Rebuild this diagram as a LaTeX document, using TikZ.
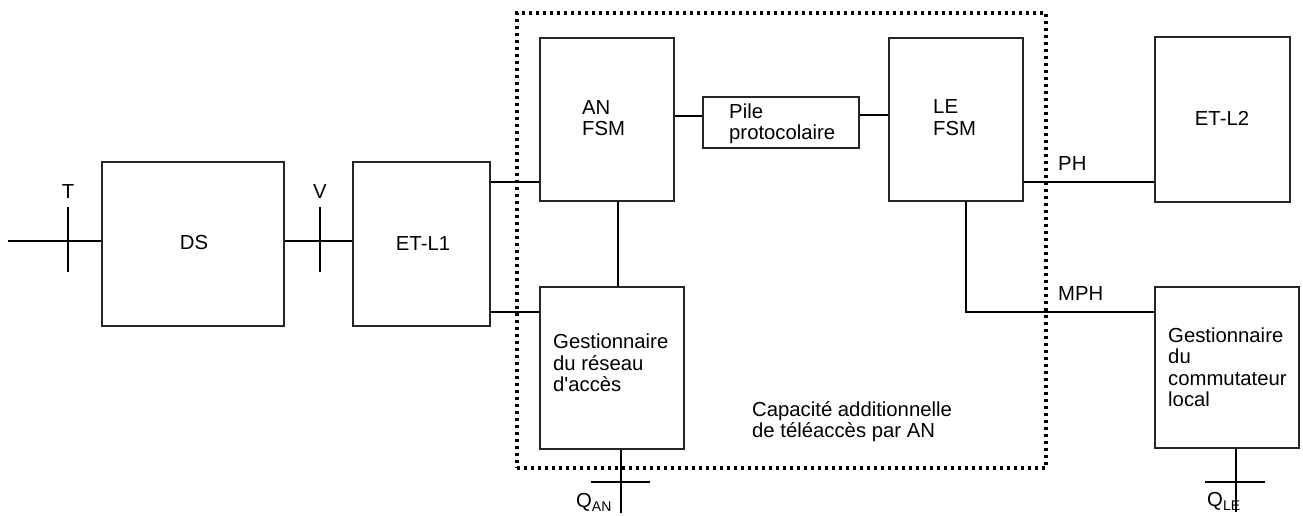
\documentclass[tikz,border=0pt]{standalone}
\usepackage{fontspec}
\setmainfont{Liberation Sans}
\begin{document}
\begin{tikzpicture}[x=1pt,y=-1pt,
  box/.style={draw=black!85, line width=1.1pt, inner sep=0pt},
  thinln/.style={line width=1.1pt},
  thickln/.style={line width=2pt},
  lbl/.style={inner sep=0pt, align=left, font=\fontsize{20.3}{21.5}\selectfont},
  dotbox/.style={draw, line width=3.4pt, dash pattern=on 3.4pt off 3.6pt, inner sep=0pt}]
\useasboundingbox (0,0) rectangle (1303,515);
% boxes
\node[box, minimum width=182pt, minimum height=164pt] (ds) at (193,244) {};
\node[box, minimum width=137pt, minimum height=164pt] (etl1) at (421.5,244) {};
\node[box, minimum width=134pt, minimum height=163pt] (an) at (607,119.5) {};
\node[box, minimum width=156pt, minimum height=51pt] (pile) at (781,122.5) {};
\node[box, minimum width=134pt, minimum height=163pt] (le) at (956,119.5) {};
\node[box, minimum width=135pt, minimum height=165pt] (etl2) at (1222.5,119.5) {};
\node[box, minimum width=144pt, minimum height=162pt] (gest) at (612,368) {};
\node[box, minimum width=144pt, minimum height=161pt] (comm) at (1227,367.5) {};
% dotted zone
\node[dotbox, minimum width=529pt, minimum height=455pt] (zone) at (781.5,240.5) {};
% helper coordinates
\coordinate (tin) at (8,241);
\coordinate (y182) at (0,182);
\coordinate (y312) at (0,312);
\coordinate (y116) at (0,116);
\coordinate (y115) at (0,115);
\coordinate (x618) at (618,0);
\coordinate (x966) at (966,0);
\coordinate (x621) at (621,0);
\coordinate (x1236) at (1236,0);
\coordinate (tT) at (68,207);
\coordinate (tB) at (68,272);
\coordinate (vT) at (320,207);
\coordinate (vB) at (320,272);
\coordinate (qanend) at (621,513);
\coordinate (qa1) at (591,482);
\coordinate (qa2) at (650,482);
\coordinate (qleend) at (1236,512);
\coordinate (ql1) at (1205,482);
\coordinate (ql2) at (1265,482);
% connectors
\draw[thinln] (tin) -- (tin -| ds.west);
\draw[thickln] (tT) -- (tB);
\draw[thickln] (ds.east |- tin) -- (etl1.west |- tin);
\draw[thickln] (vT) -- (vB);
\draw[thickln] (etl1.east |- y182) -- (an.west |- y182);
\draw[thickln] (etl1.east |- y312) -- (gest.west |- y312);
\draw[thickln] (an.south -| x618) -- (gest.north -| x618);
\draw[thinln] (an.east |- y116) -- (pile.west |- y116);
\draw[thinln] (pile.east |- y115) -- (le.west |- y115);
\draw[thickln] (le.east |- y182) -- (etl2.west |- y182);
\draw[thinln] (le.south -| x966) |- (comm.west |- y312);
\draw[thickln] (gest.south -| x621) -- (qanend);
\draw[thickln] (qa1) -- (qa2);
\draw[thickln] (comm.south -| x1236) -- (qleend);
\draw[thickln] (ql1) -- (ql2);
% labels (multi-line: anchor at baseline of last line)
\node[lbl, anchor=base] (lT) at (68,198) {T};
\node[lbl, anchor=base] (lV) at (320,198) {V};
\node[lbl, anchor=base] (lds) at (194,249) {DS};
\node[lbl, anchor=base] (letl1) at (423,250) {ET-L1};
\node[lbl, anchor=base] (letl2) at (1222,125) {ET-L2};
\node[lbl, anchor=base west] (lan) at (582,135.5) {AN\\FSM};
\node[lbl, anchor=base west] (lle) at (933,135) {LE\\FSM};
\node[lbl, anchor=base west] (lpile) at (729,139.5) {Pile\\protocolaire};
\node[lbl, anchor=base west] (lgest) at (553,391.5) {Gestionnaire\\du réseau\\d\textquotesingle accès};
\node[lbl, anchor=base west] (lcomm) at (1168,406.5) {Gestionnaire\\du\\commutateur\\local};
\node[lbl, anchor=base west] (lcap) at (752,437.5) {Capacité additionnelle\\de téléaccès par AN};
\node[lbl, anchor=base west] (lph) at (1058,170) {PH};
\node[lbl, anchor=base west] (lmph) at (1058,300) {MPH};
\node[lbl, anchor=base west] (lqan) at (576,507) {Q\raisebox{-4.5pt}{\fontsize{14}{14}\selectfont AN}};
\node[lbl, anchor=base west] (lqle) at (1207,506) {Q\raisebox{-4.5pt}{\fontsize{14}{14}\selectfont LE}};
\end{tikzpicture}
\end{document}
